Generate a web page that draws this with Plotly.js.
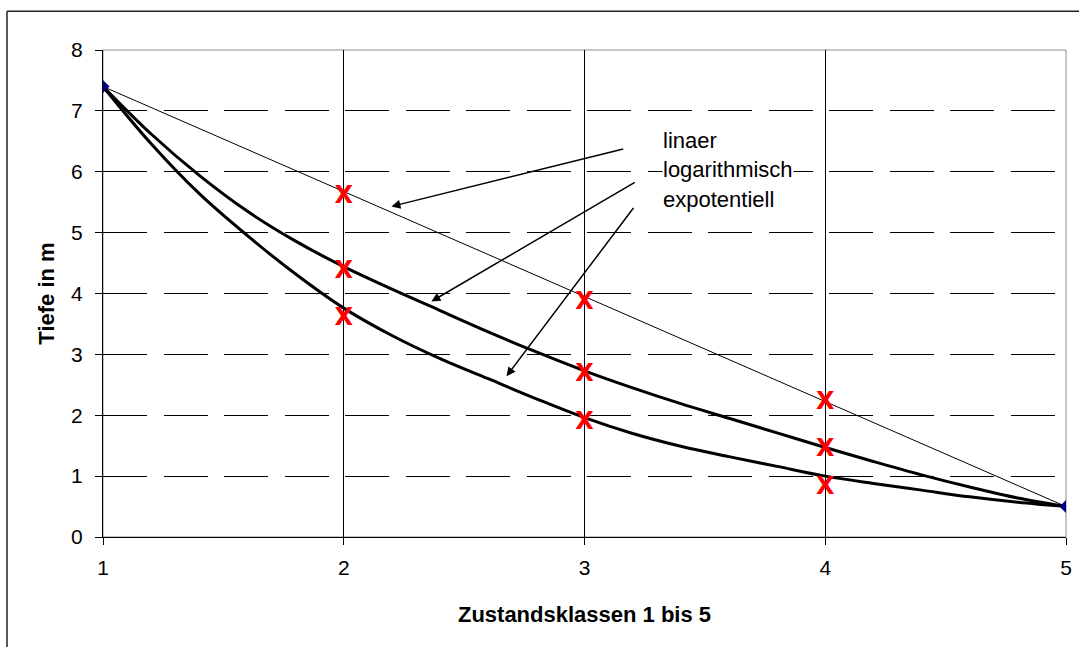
<!DOCTYPE html>
<html>
<head>
<meta charset="utf-8">
<script src="https://cdn.plot.ly/plotly-3.0.1.min.js"></script>
<style>
  html, body { margin: 0; padding: 0; background: #fff; }
  #chart { width: 1079px; height: 647px; }
</style>
</head>
<body>
<div id="chart"></div>
<script>
// ---- data ----
const curveX = [1, 1.2, 1.4, 1.6, 1.8, 2, 2.2, 2.4, 2.6, 2.8, 3, 3.2, 3.4, 3.6, 3.8, 4, 4.2, 4.4, 4.6, 4.8, 5];
const logDepth = [7.40, 6.62, 5.94, 5.35, 4.86, 4.44, 4.07, 3.72, 3.37, 3.04, 2.73, 2.45, 2.19, 1.95, 1.71, 1.47, 1.24, 1.02, 0.82, 0.64, 0.50];
const expDepth = [7.40, 6.46, 5.64, 4.95, 4.32, 3.76, 3.31, 2.93, 2.60, 2.27, 1.96, 1.70, 1.49, 1.32, 1.16, 1.00, 0.88, 0.77, 0.66, 0.57, 0.50];
const linX = [1, 5];
const linDepth = [7.4, 0.5];
const markX = [2, 2, 2, 3, 3, 3, 4, 4, 4];
const markDepth = [5.59, 4.36, 3.58, 3.85, 2.66, 1.88, 2.20, 1.43, 0.81];
const legendLabels = ['linaer', 'logarithmisch', 'expotentiell'];
const xTitle = 'Zustandsklassen 1 bis 5';
const yTitle = 'Tiefe in m';

const FONT = 'Liberation Sans, Arial, sans-serif';

const traces = [
  { x: curveX, y: logDepth, mode: 'lines', line: { color: '#000', width: 3, shape: 'spline', smoothing: 1 }, hoverinfo: 'skip', name: legendLabels[1] },
  { x: curveX, y: expDepth, mode: 'lines', line: { color: '#000', width: 3, shape: 'spline', smoothing: 1 }, hoverinfo: 'skip', name: legendLabels[2] },
  { x: linX, y: linDepth, mode: 'lines+markers', line: { color: '#000', width: 1 },
    marker: { symbol: 'diamond', size: 10, color: '#000080' }, name: legendLabels[0] },
  { x: markX, y: markDepth, mode: 'text', text: markX.map(() => '<b>X</b>'), textposition: 'middle center',
    textfont: { family: 'DejaVu Sans, Liberation Sans, sans-serif', size: 24, color: '#ff0000' }, hoverinfo: 'skip', name: 'Messwerte' }
];

// label anchor positions / arrow geometry (layout)
const labelPos = [{ x: 3.32, y: 6.52 }, { x: 3.32, y: 6.03 }, { x: 3.32, y: 5.54 }];
const arrowHeads = [{ x: 2.198, y: 5.43 }, { x: 2.364, y: 3.87 }, { x: 2.676, y: 2.64 }];
const arrowTails = [{ x: 3.167, y: 6.38 }, { x: 3.215, y: 5.84 }, { x: 3.208, y: 5.43 }];

const annotations = [];
legendLabels.forEach((t, i) => {
  annotations.push({ x: arrowHeads[i].x, y: arrowHeads[i].y, xref: 'x', yref: 'y',
    ax: arrowTails[i].x, ay: arrowTails[i].y, axref: 'x', ayref: 'y', text: '', showarrow: true,
    arrowhead: 2, arrowsize: 1.2, arrowwidth: 1.5, arrowcolor: '#000', standoff: 0 });
});
legendLabels.forEach((t, i) => {
  annotations.push({ x: labelPos[i].x, y: labelPos[i].y, xref: 'x', yref: 'y', text: t, showarrow: false,
    xanchor: 'left', yanchor: 'middle', bgcolor: '#fff', borderpad: 0,
    font: { family: FONT, size: 22, color: '#000' } });
});

const layout = {
  width: 1079, height: 647,
  margin: { l: 103, r: 13, t: 50, b: 109.5, pad: 0 },
  paper_bgcolor: '#fff', plot_bgcolor: '#fff',
  showlegend: false,
  font: { family: FONT, color: '#000' },
  xaxis: {
    range: [1, 5], dtick: 1, tick0: 1, showgrid: true, gridcolor: '#000', gridwidth: 1,
    zeroline: false, showline: true, linecolor: '#000', linewidth: 1,
    ticks: 'outside', ticklen: 7, tickcolor: '#000', tickfont: { family: FONT, size: 21, color: '#000' },
    ticklabelstandoff: 5,
    title: { text: xTitle, font: { family: FONT, size: 22, color: '#000', weight: 'bold' }, standoff: 28 },
    automargin: false, fixedrange: true
  },
  yaxis: {
    range: [0, 8], dtick: 1, tick0: 0, showgrid: true, gridcolor: '#000', gridwidth: 1, griddash: '44px,16.5px',
    zeroline: false, showline: true, linecolor: '#000', linewidth: 1,
    ticks: 'outside', ticklen: 7, tickcolor: '#000', tickfont: { family: FONT, size: 21, color: '#000' },
    ticklabelstandoff: 8,
    title: { text: yTitle, font: { family: FONT, size: 22, color: '#000', weight: 'bold' }, standoff: 10 },
    automargin: false, fixedrange: true
  },
  shapes: [
    { type: 'rect', xref: 'paper', yref: 'paper', x0: 0, x1: 1, y0: 0, y1: 1, layer: 'between',
      line: { color: '#8c8c8c', width: 1 } },
    { type: 'line', xref: 'paper', yref: 'paper', x0: -0.0997, x1: -0.0997, y0: -0.3, y1: 1.0795,
      line: { color: '#222', width: 1.5 } },
    { type: 'line', xref: 'paper', yref: 'paper', x0: -0.0997, x1: 1.02, y0: 1.0795, y1: 1.0795,
      line: { color: '#222', width: 1.5 } }
  ],
  annotations: annotations
};

Plotly.newPlot('chart', traces, layout, { staticPlot: true, displayModeBar: false });
</script>
</body>
</html>
